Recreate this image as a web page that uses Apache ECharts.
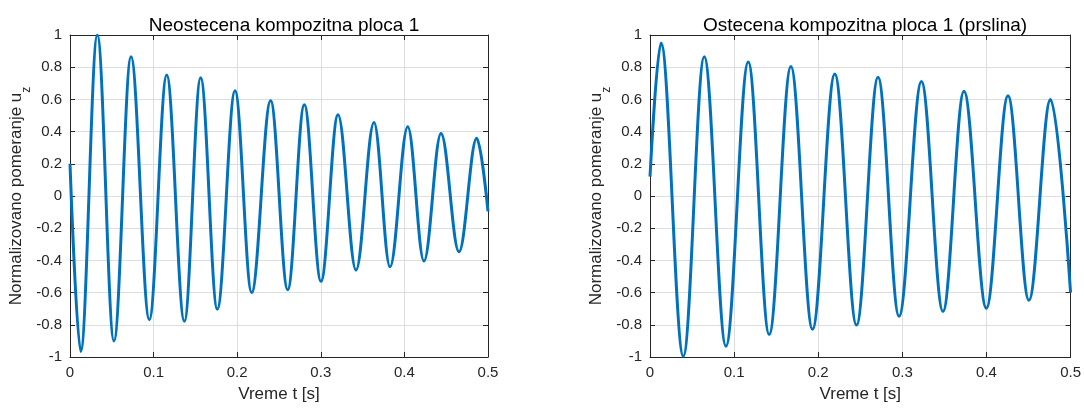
<!DOCTYPE html>
<html>
<head>
<meta charset="utf-8">
<title>Normalizovano pomeranje</title>
<script src="https://cdn.jsdelivr.net/npm/echarts@6/dist/echarts.min.js"></script>
<style>
  html, body { margin: 0; padding: 0; background: #ffffff; }
  #chart { width: 1084px; height: 408px; }
</style>
</head>
<body>
<div id="chart"></div>
<script>
// Neostecena ploca: pocetna vrednost, ekstremumi oscilacija i krajnja vrednost
var timeIntact = [0, 0.0128, 0.0327, 0.0526, 0.073, 0.0949, 0.1157, 0.1368, 0.1563, 0.1762,
  0.1974, 0.2173, 0.240, 0.2604, 0.2803, 0.3002, 0.3206, 0.3421, 0.3636, 0.3828,
  0.404, 0.4234, 0.4438, 0.4653, 0.4865, 0.5];
var dispIntact = [0.2, -0.966, 1.0, -0.90, 0.865, -0.768, 0.752, -0.778, 0.735, -0.703,
  0.653, -0.60, 0.592, -0.582, 0.566, -0.53, 0.505, -0.46, 0.456, -0.44,
  0.43, -0.404, 0.388, -0.347, 0.358, -0.095];

// Ostecena ploca (prslina)
var timeCracked = [0, 0.0131, 0.0396, 0.0645, 0.0903, 0.1168, 0.1417, 0.1675, 0.1932, 0.2197,
  0.2455, 0.2711, 0.2961, 0.3227, 0.3483, 0.3733, 0.3999, 0.4256, 0.4505, 0.4762, 0.5];
var dispCracked = [0.12, 0.95, -0.995, 0.865, -0.933, 0.832, -0.86, 0.804, -0.828, 0.758,
  -0.802, 0.737, -0.747, 0.711, -0.717, 0.65, -0.697, 0.622, -0.647, 0.6, -0.6];

var titles = ['Neostecena kompozitna ploca 1', 'Ostecena kompozitna ploca 1 (prslina)'];
var xName = 'Vreme t [s]';
var yName = '{n|Normalizovano pomeranje u}{s|z}';

function pairs(t, v) {
  return t.map(function (x, i) { return [x, v[i]]; });
}

var AX = '#262626';
var GRIDC = '#dedede';
var LINE = '#0072BD';
var FONT = '"Liberation Sans", Arial, Helvetica, sans-serif';

var grids = [
  { left: 70, right: 596, top: 35, bottom: 43 },
  { left: 650, right: 13, top: 35, bottom: 43 }
];

function tickFmt(v) { return String(Math.round(v * 10) / 10); }

var xAxes = [], yAxes = [];
[0, 1].forEach(function (g) {
  xAxes.push({
    type: 'value', gridIndex: g, min: 0, max: 0.5, interval: 0.1, position: 'bottom',
    name: xName, nameLocation: 'middle', nameGap: 29,
    nameTextStyle: { fontFamily: FONT, fontSize: 17, color: AX },
    axisLine: { show: true, onZero: false, lineStyle: { color: AX, width: 1 } },
    axisTick: { show: true, inside: true, length: 5, lineStyle: { color: AX } },
    axisLabel: { fontFamily: FONT, fontSize: 15, color: AX, margin: 8, formatter: tickFmt },
    splitLine: { show: true, lineStyle: { color: GRIDC, width: 1 } }
  });
  xAxes.push({
    type: 'value', gridIndex: g, min: 0, max: 0.5, interval: 0.1, position: 'top',
    axisLine: { show: true, onZero: false, lineStyle: { color: AX, width: 1 } },
    axisTick: { show: true, inside: true, length: 5, lineStyle: { color: AX } },
    axisLabel: { show: false }, splitLine: { show: false }
  });
  yAxes.push({
    type: 'value', gridIndex: g, min: -1, max: 1, interval: 0.2, position: 'left',
    name: yName, nameLocation: 'middle', nameGap: 36, nameRotate: 90,
    nameTextStyle: {
      fontFamily: FONT, color: AX,
      rich: {
        n: { fontFamily: FONT, fontSize: 17, color: AX, lineHeight: 24, verticalAlign: 'top' },
        s: { fontFamily: FONT, fontSize: 12, color: AX, lineHeight: 24, verticalAlign: 'bottom' }
      }
    },
    axisLine: { show: true, onZero: false, lineStyle: { color: AX, width: 1 } },
    axisTick: { show: true, inside: true, length: 5, lineStyle: { color: AX } },
    axisLabel: { fontFamily: FONT, fontSize: 15, color: AX, margin: 8, formatter: tickFmt },
    splitLine: { show: true, lineStyle: { color: GRIDC, width: 1 } }
  });
  yAxes.push({
    type: 'value', gridIndex: g, min: -1, max: 1, interval: 0.2, position: 'right',
    axisLine: { show: true, onZero: false, lineStyle: { color: AX, width: 1 } },
    axisTick: { show: true, inside: true, length: 5, lineStyle: { color: AX } },
    axisLabel: { show: false }, splitLine: { show: false }
  });
});

// Horizontal tangents at every extremum give a cosine-like half wave between them
function waveSeries(xi, t, v) {
  return {
    type: 'line', xAxisIndex: xi, yAxisIndex: xi, data: pairs(t, v),
    smooth: 0.36, smoothMonotone: 'x', showSymbol: false, symbol: 'none',
    lineStyle: { color: LINE, width: 3 }, z: 5
  };
}

var chart = echarts.init(document.getElementById('chart'), null, { renderer: 'canvas' });
chart.setOption({
  animation: false,
  backgroundColor: '#ffffff',
  title: [
    { text: titles[0], left: 279, top: 11, textAlign: 'center',
      textStyle: { fontFamily: FONT, fontSize: 19, fontWeight: 'normal', color: '#000' } },
    { text: titles[1], left: 860, top: 11, textAlign: 'center',
      textStyle: { fontFamily: FONT, fontSize: 19, fontWeight: 'normal', color: '#000' } }
  ],
  grid: grids,
  xAxis: xAxes,
  yAxis: yAxes,
  series: [waveSeries(0, timeIntact, dispIntact), waveSeries(2, timeCracked, dispCracked)]
});
</script>
</body>
</html>
